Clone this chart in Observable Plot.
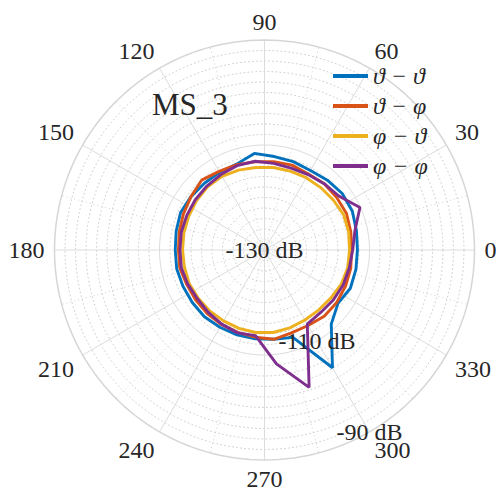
<!DOCTYPE html>
<html>
<head>
<meta charset="utf-8">
<script src="https://cdn.jsdelivr.net/npm/d3@7"></script>
<script src="https://cdn.jsdelivr.net/npm/@observablehq/plot@0.6"></script>
<style>
  body { margin: 0; background: #fff; }
  #chart { position: relative; width: 496px; height: 497px; font-family: "Liberation Serif", "Times New Roman", serif; color: #262626; }
  #chart svg { display: block; }
  #title { position: absolute; left: 152px; top: 89px; font-size: 31px; line-height: 1; white-space: nowrap; }
  .row { position: absolute; left: 333px; height: 30px; display: flex; align-items: center; white-space: nowrap; }
  .swatch { width: 35px; height: 3.5px; }
  .label { margin-left: 5px; font-size: 24px; font-style: italic; line-height: 1; }
</style>
</head>
<body>
<div id="chart"></div>
<script>
// Azimuth of each sample (degrees)
const angles = [0, 12, 24, 36, 48, 60, 72, 84, 96, 108, 120, 132, 144, 156, 168,
                180, 192, 204, 216, 228, 240, 252, 264, 276, 288, 300, 312, 324, 336, 348];

// Coupling level per polarisation pair (dB)
const thetaTheta = [-112.3, -112.1, -111.7, -111.7, -112.1, -112.5, -112.3, -112.1, -111.5, -112.8,
                    -112.9, -112.9, -112.7, -112.5, -112.8, -113.0, -112.9, -113.0, -113.0, -112.9,
                    -113.0, -113.0, -113.0, -112.9, -112.5, -104.1, -111.0, -112.7, -112.1, -112.2];
const thetaPhi   = [-113.4, -113.2, -112.9, -113.0, -113.0, -113.3, -113.0, -113.1, -113.1, -112.9,
                    -112.7, -112.1, -112.7, -113.1, -113.4, -113.6, -113.5, -113.8, -113.8, -113.7,
                    -113.6, -113.5, -113.3, -112.9, -113.4, -113.4, -113.0, -113.0, -113.1, -113.2];
const phiTheta   = [-113.8, -113.6, -113.5, -113.8, -114.0, -114.1, -114.2, -114.2, -114.2, -114.0,
                    -113.8, -113.8, -114.0, -114.2, -114.3, -114.4, -114.4, -114.3, -114.4, -114.4,
                    -114.4, -114.3, -114.2, -114.2, -114.4, -114.6, -114.6, -114.4, -114.0, -113.8];
const phiPhi     = [-113.2, -112.4, -110.1, -112.5, -113.0, -113.4, -113.6, -113.4, -113.0, -113.1,
                    -113.4, -113.6, -113.7, -113.8, -113.8, -113.9, -113.8, -114.0, -114.2, -114.0,
                    -113.7, -113.4, -113.6, -108.2, -102.5, -113.7, -114.0, -113.8, -113.6, -113.5];

const seriesNames  = ["\u03D1 \u2212 \u03D1", "\u03D1 \u2212 \u03C6", "\u03C6 \u2212 \u03D1", "\u03C6 \u2212 \u03C6"];
const seriesValues = [thetaTheta, thetaPhi, phiTheta, phiPhi];
const seriesColors = ["#0072BD", "#D95319", "#EDB120", "#7E2F8E"];

const title = "MS_3";

// Axis ticks
const thetaTicks = [0, 30, 60, 90, 120, 150, 180, 210, 240, 270, 300, 330];
const thetaMinorTicks = [15, 45, 75, 105, 135, 165, 195, 225, 255, 285, 315, 345];
const rTicks = [-130, -110, -90];
const rMinorTicks = [-128, -126, -124, -122, -120, -118, -116, -114, -112,
                     -108, -106, -104, -102, -100, -98, -96, -94, -92];
const rLabelAngle = 300;

const rMin = -130, rMax = -90;
const span = rMax - rMin;
const rad = d => d * Math.PI / 180;
const px = (a, v) => (v - rMin) * Math.cos(rad(a));
const py = (a, v) => (v - rMin) * Math.sin(rad(a));

// Closed polygon for each series
const traces = seriesValues.flatMap((vals, i) =>
  [...angles, angles[0]].map((a, k) => ({series: i, a, v: vals[k % angles.length]})));

// Grid rings sampled around the full turn
const ringSamples = d3.range(0, 361, 2);
const ring = levels => levels.flatMap(v => ringSamples.map(a => ({v, a})));

// Angular labels placed just outside the edge ring
const labelR = span * 220 / 210;
function anchorFor(a) {
  const c = Math.cos(rad(a)), s = Math.sin(rad(a));
  const ta = Math.abs(c) < 0.1 ? "middle" : c > 0 ? "start" : "end";
  const la = Math.abs(s) < 0.1 ? "middle" : s > 0 ? "bottom" : "top";
  return [ta, la];
}
const anchorGroups = d3.groups(thetaTicks, a => anchorFor(a).join("|"));

const gridColor = "#dcdcdc";
const minorColor = "#c4c4c4";

const plot = Plot.plot({
  width: 496,
  height: 497,
  margin: 0,
  x: {type: "linear", domain: [-span, span], range: [54, 474], axis: null},
  y: {type: "linear", domain: [-span, span], range: [459.5, 39.5], axis: null},
  style: {fontFamily: "'Liberation Serif', 'Times New Roman', serif", fontSize: "24px", color: "#262626", background: "#fff", overflow: "visible"},
  marks: [
    // minor rings and spokes
    Plot.line(ring(rMinorTicks), {x: d => px(d.a, d.v), y: d => py(d.a, d.v), z: "v",
      stroke: minorColor, strokeWidth: 0.8, strokeDasharray: "1,3"}),
    Plot.link(thetaMinorTicks, {x1: () => 0, y1: () => 0, x2: a => px(a, rMax), y2: a => py(a, rMax),
      stroke: minorColor, strokeWidth: 0.8, strokeDasharray: "1,3"}),
    // major rings and spokes
    Plot.line(ring(rTicks.slice(1, -1)), {x: d => px(d.a, d.v), y: d => py(d.a, d.v), z: "v",
      stroke: gridColor, strokeWidth: 1}),
    Plot.link(thetaTicks, {x1: () => 0, y1: () => 0, x2: a => px(a, rMax), y2: a => py(a, rMax),
      stroke: gridColor, strokeWidth: 1}),
    Plot.line(ring([rMax]), {x: d => px(d.a, d.v), y: d => py(d.a, d.v), z: "v",
      stroke: "#d6d6d6", strokeWidth: 1.5}),
    // series
    Plot.line(traces, {x: d => px(d.a, d.v), y: d => py(d.a, d.v), z: "series",
      stroke: d => seriesColors[d.series], strokeWidth: 2.9,
      strokeLinejoin: "miter", strokeLinecap: "butt", curve: "linear"}),
    // angular tick labels
    ...anchorGroups.map(([key, ticks]) => {
      const [textAnchor, lineAnchor] = key.split("|");
      return Plot.text(ticks, {x: a => labelR * Math.cos(rad(a)), y: a => labelR * Math.sin(rad(a)),
        text: a => String(a), textAnchor, lineAnchor, fill: "#262626"});
    }),
    // radial tick labels
    Plot.text(rTicks, {x: v => px(rLabelAngle, v), y: v => py(rLabelAngle, v),
      text: v => `${v} dB`, textAnchor: "middle", lineAnchor: "middle", fill: "#262626"})
  ]
});

const chart = document.getElementById("chart");
chart.appendChild(plot);

const t = document.createElement("div");
t.id = "title";
t.textContent = title;
chart.appendChild(t);

seriesNames.forEach((name, i) => {
  const row = document.createElement("div");
  row.className = "row";
  row.style.top = (61 + 30 * i) + "px";
  const sw = document.createElement("div");
  sw.className = "swatch";
  sw.style.background = seriesColors[i];
  const lb = document.createElement("span");
  lb.className = "label";
  lb.textContent = name;
  row.appendChild(sw);
  row.appendChild(lb);
  chart.appendChild(row);
});
</script>
</body>
</html>
